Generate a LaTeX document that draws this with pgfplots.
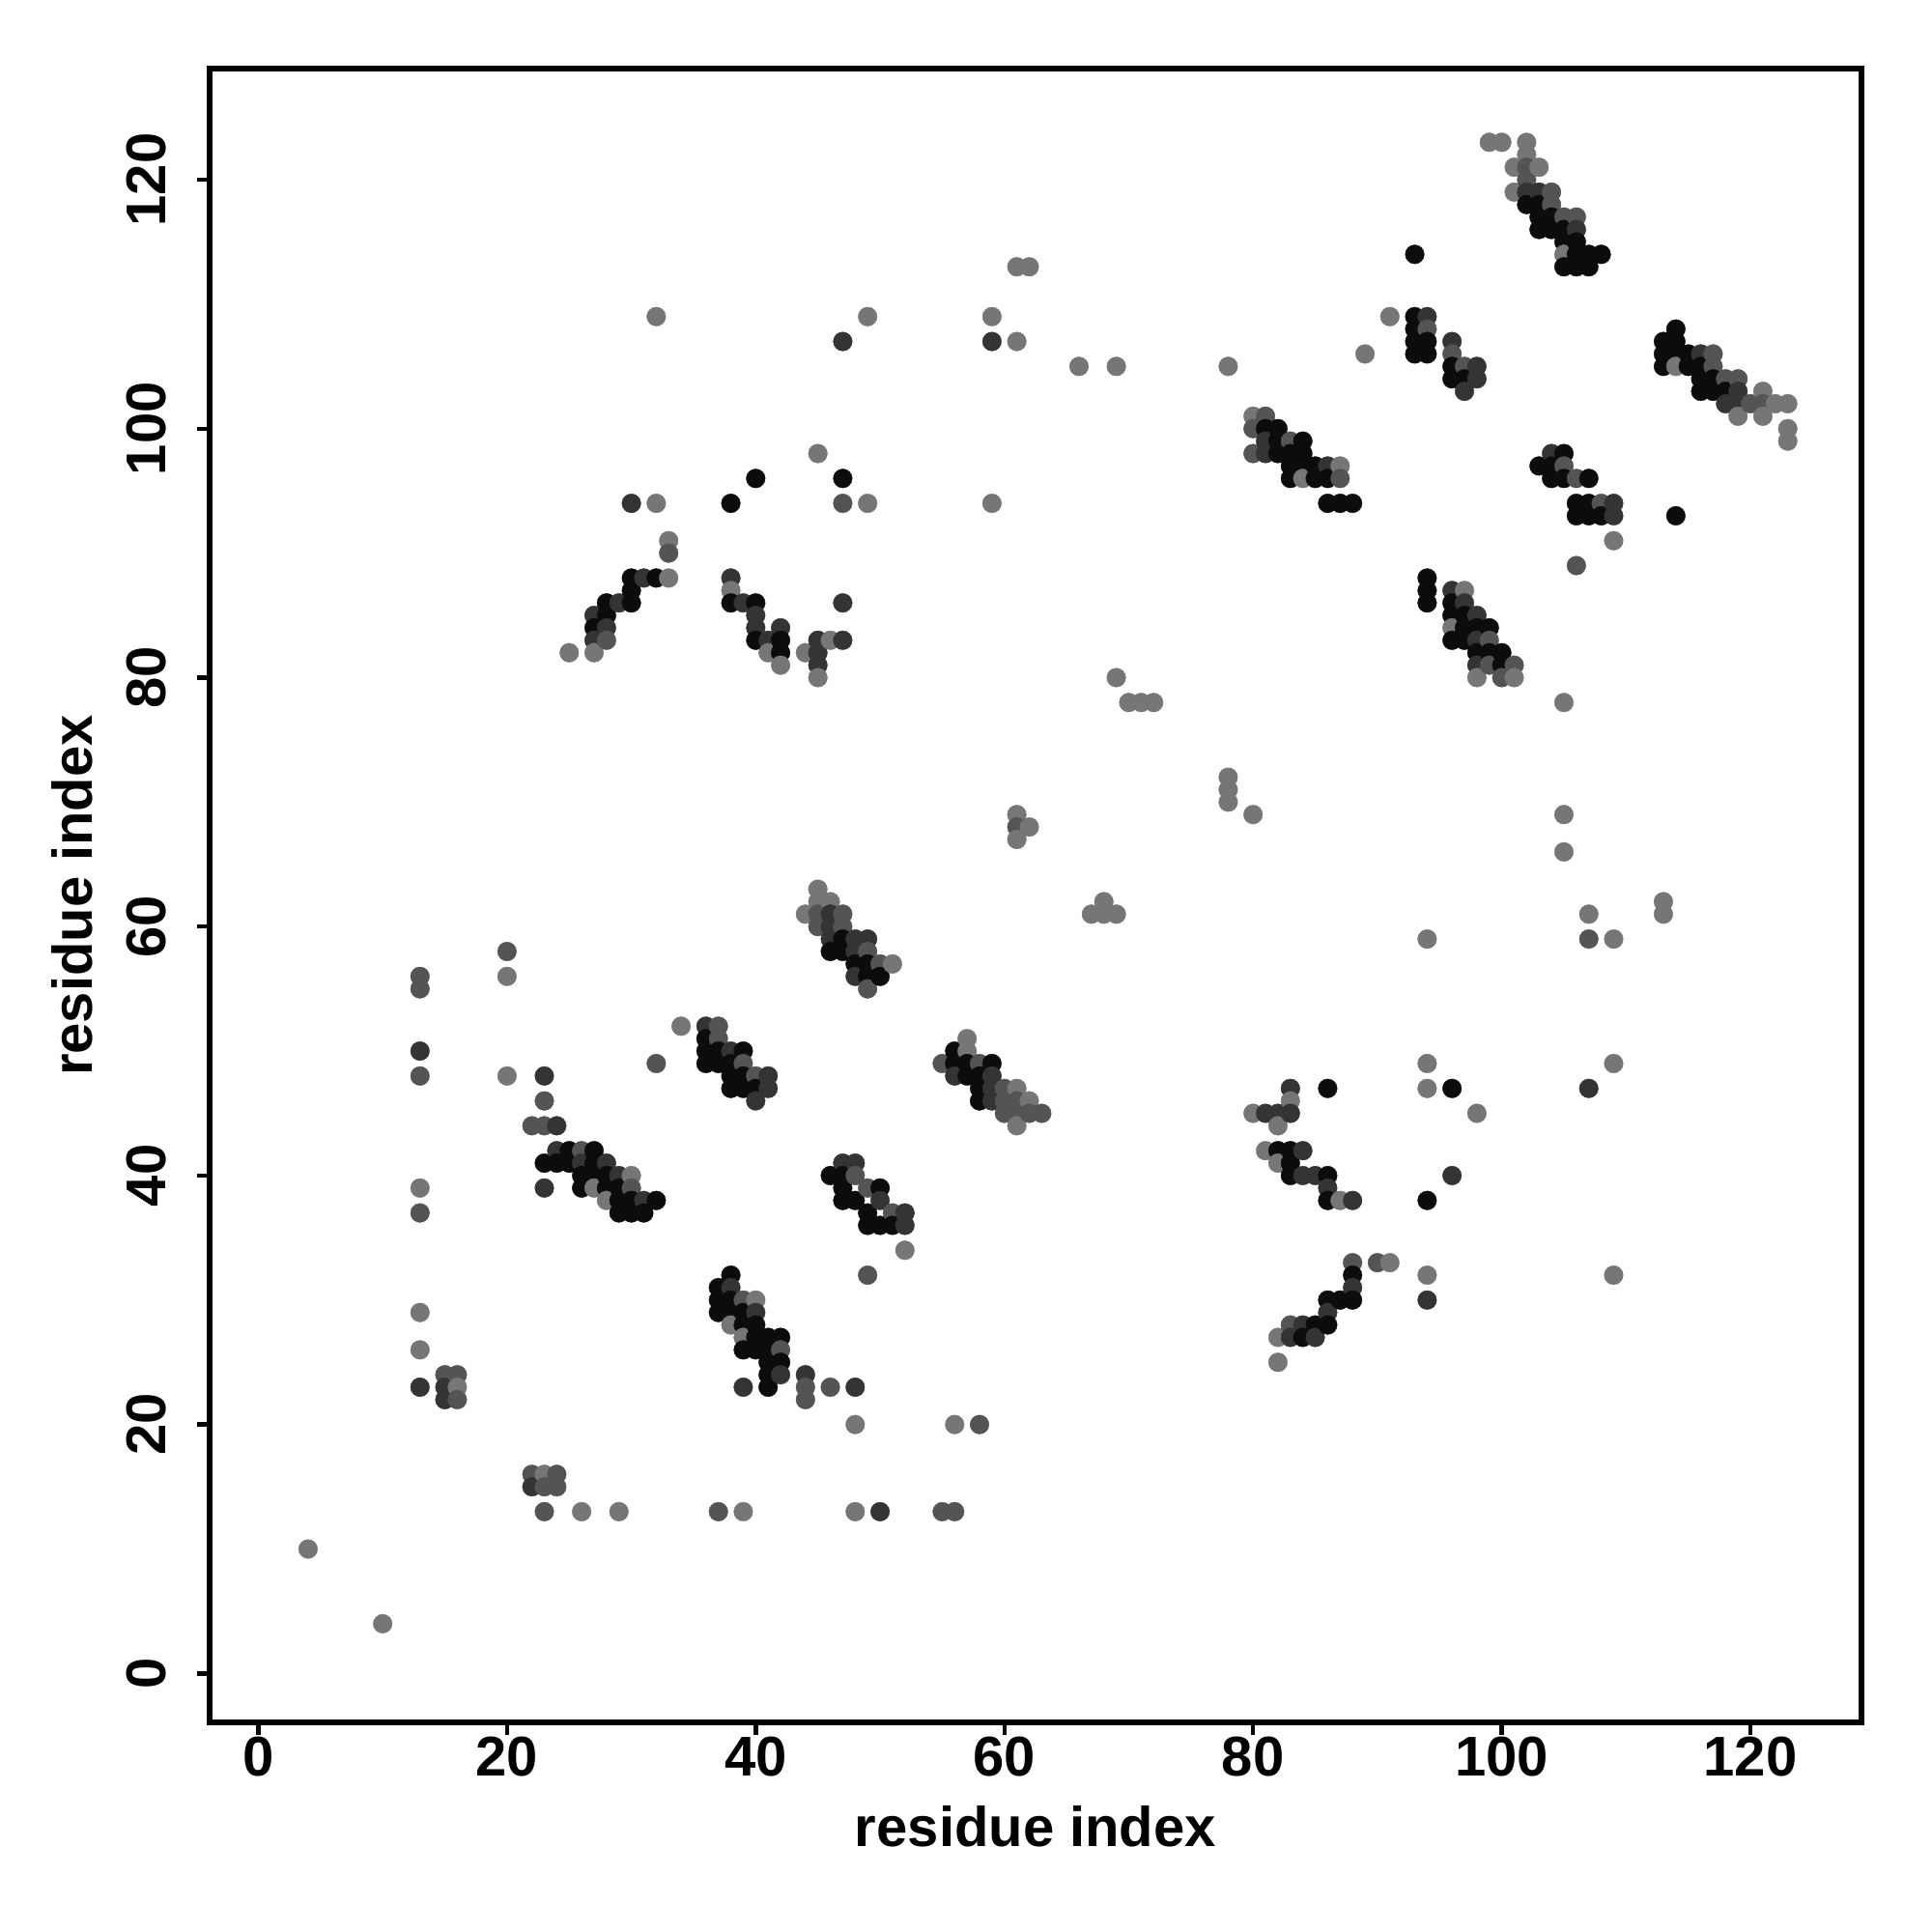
\documentclass[border=0pt]{standalone}
\usepackage{fontspec}
\setmainfont{Liberation Sans}
\usepackage{pgfplots}
\usepackage{pgfplotstable}
\pgfplotsset{compat=1.18}
% shade: 0 = black, 1 = dark grey, 2 = medium grey, 3 = grey
\pgfplotstableread{
x y c
4 10 3
10 4 3
13 56 2
13 55 2
13 50 1
13 48 2
13 39 3
13 37 2
13 29 3
13 26 3
13 23 1
15 24 2
15 23 1
15 22 1
16 24 2
16 23 3
16 22 2
20 58 2
20 56 3
20 48 3
22 44 2
22 16 2
22 15 1
23 48 1
23 46 2
23 44 2
23 41 0
23 39 1
23 16 3
23 15 2
23 13 2
24 44 1
24 42 1
24 41 0
24 16 2
24 15 2
25 82 3
25 42 0
25 41 0
26 42 2
26 41 1
26 40 0
26 39 0
26 13 3
27 85 1
27 84 0
27 83 1
27 82 3
27 42 0
27 41 0
27 40 0
27 39 3
28 86 0
28 85 0
28 84 1
28 83 2
28 41 1
28 40 0
28 39 0
28 38 3
29 86 1
29 40 1
29 39 0
29 38 0
29 37 0
29 13 3
30 94 1
30 88 0
30 87 0
30 86 0
30 40 3
30 39 2
30 38 0
30 37 0
31 88 1
31 38 1
31 37 0
32 109 3
32 94 3
32 88 0
32 49 2
32 38 0
33 91 3
33 90 2
33 88 3
34 52 3
36 52 1
36 51 0
36 50 0
36 49 0
37 52 2
37 51 2
37 50 0
37 49 0
37 31 0
37 30 0
37 29 0
37 13 2
38 94 0
38 88 1
38 87 3
38 86 0
38 50 1
38 49 0
38 48 0
38 47 0
38 32 0
38 31 1
38 30 0
38 29 0
38 28 3
39 86 1
39 50 0
39 49 2
39 48 0
39 47 0
39 30 2
39 29 0
39 28 0
39 27 3
39 26 0
39 23 1
39 13 3
40 96 0
40 86 0
40 85 1
40 84 1
40 83 0
40 48 2
40 47 0
40 46 1
40 30 3
40 29 1
40 28 0
40 27 0
40 26 0
41 83 1
41 82 3
41 48 1
41 47 1
41 27 0
41 26 0
41 25 0
41 24 0
41 23 0
42 84 1
42 83 0
42 82 0
42 81 3
42 27 0
42 26 2
42 25 0
42 24 1
44 82 3
44 61 3
44 24 1
44 23 2
44 22 2
45 98 3
45 83 1
45 82 1
45 81 1
45 80 3
45 63 3
45 62 3
45 61 2
45 60 2
46 83 3
46 62 3
46 61 1
46 60 1
46 59 1
46 58 0
46 40 0
46 23 2
47 107 1
47 96 0
47 94 2
47 86 1
47 83 1
47 61 2
47 60 2
47 59 0
47 58 0
47 41 1
47 40 0
47 39 0
47 38 0
48 59 1
48 58 1
48 57 0
48 56 1
48 41 1
48 40 2
48 38 0
48 23 1
48 20 3
48 13 3
49 109 3
49 94 3
49 59 1
49 58 2
49 57 0
49 56 0
49 55 2
49 39 2
49 37 0
49 36 0
49 32 2
50 57 2
50 56 0
50 39 0
50 38 1
50 36 0
50 13 1
51 57 3
51 37 2
51 36 0
52 37 1
52 36 1
52 34 3
55 49 2
55 13 2
56 50 0
56 49 0
56 48 1
56 20 3
56 13 2
57 51 3
57 50 3
57 49 0
57 48 0
58 49 2
58 48 0
58 47 0
58 46 0
58 20 2
59 109 3
59 107 1
59 94 3
59 49 0
59 48 1
59 47 1
59 46 1
60 47 2
60 46 2
60 45 2
61 113 3
61 107 3
61 69 3
61 68 2
61 67 3
61 47 3
61 46 2
61 45 2
61 44 3
62 113 3
62 68 3
62 46 3
62 45 2
63 45 2
66 105 3
67 61 3
68 62 3
68 61 3
69 61 3
69 105 3
69 80 3
70 78 3
71 78 3
72 78 3
78 105 3
78 72 3
78 71 3
78 70 3
80 101 3
80 100 2
80 98 2
80 69 3
80 45 3
81 101 2
81 100 0
81 99 1
81 98 1
81 45 1
81 42 3
82 100 0
82 99 0
82 98 0
82 45 1
82 44 3
82 42 0
82 41 3
82 27 3
82 25 3
83 99 2
83 98 0
83 97 0
83 96 0
83 47 1
83 46 3
83 45 1
83 42 0
83 41 0
83 40 0
83 28 2
83 27 1
84 99 0
84 98 0
84 97 0
84 96 3
84 42 1
84 40 1
84 28 1
84 27 0
85 97 0
85 96 0
85 40 1
85 28 0
85 27 1
86 97 1
86 96 0
86 94 0
86 47 0
86 40 0
86 39 1
86 38 0
86 30 0
86 29 1
86 28 0
87 97 3
87 96 2
87 94 0
87 38 3
87 30 0
88 94 0
88 38 1
88 33 2
88 32 0
88 31 1
88 30 0
89 106 3
90 33 2
91 33 3
91 109 3
93 114 0
93 109 0
93 108 0
93 107 0
93 106 0
94 109 1
94 108 2
94 107 0
94 106 0
94 88 0
94 87 0
94 86 0
94 59 3
94 49 3
94 47 3
94 38 0
94 32 3
94 30 1
96 107 1
96 106 2
96 105 0
96 104 0
96 87 1
96 86 0
96 85 0
96 84 3
96 83 0
96 47 0
96 40 1
97 105 2
97 104 0
97 103 1
97 87 3
97 86 1
97 85 0
97 84 0
97 83 0
98 105 1
98 104 1
98 85 1
98 84 0
98 83 1
98 82 0
98 81 1
98 80 3
98 45 3
99 123 3
99 84 0
99 83 2
99 82 0
99 81 2
100 123 3
100 82 0
100 81 0
100 80 2
101 121 3
101 119 3
101 81 2
101 80 3
102 123 3
102 122 3
102 121 2
102 120 2
102 119 1
102 118 0
103 121 3
103 119 1
103 118 0
103 117 0
103 116 0
103 97 0
104 119 2
104 118 2
104 117 0
104 116 0
104 98 1
104 97 0
104 96 0
105 117 2
105 116 0
105 115 0
105 114 3
105 113 0
105 98 0
105 97 2
105 96 0
105 78 3
105 69 3
105 66 3
106 117 2
106 116 1
106 115 0
106 114 0
106 113 0
106 96 2
106 94 0
106 93 0
106 89 2
107 114 0
107 113 0
107 96 0
107 94 0
107 93 0
107 61 3
107 59 2
107 47 1
108 114 0
108 94 2
108 93 0
109 94 1
109 93 1
109 91 3
109 59 3
109 49 3
109 32 3
113 107 0
113 106 0
113 105 0
113 62 3
113 61 3
114 108 0
114 107 0
114 106 0
114 105 3
114 93 0
115 106 0
115 105 0
116 106 1
116 105 0
116 104 0
116 103 0
117 106 2
117 105 2
117 104 0
117 103 0
118 104 2
118 103 0
118 102 1
119 104 2
119 103 1
119 102 1
119 101 3
120 102 2
121 103 3
121 102 2
121 101 3
122 102 3
123 102 3
123 100 3
123 99 3
}\contacts
\begin{document}
\begin{tikzpicture}
\begin{axis}[
  scale only axis,
  width=427.5pt, height=428pt,
  xmin=-3.92, xmax=128.92, ymin=-3.92, ymax=128.92,
  xtick={0,20,...,120}, ytick={0,20,...,120},
  xtick pos=left, ytick pos=left,
  tick align=outside, major tick length=3.25pt,
  axis line style={line width=1.5pt},
  every tick/.style={black, line width=1.1pt},
  /pgf/number format/assume math mode=true,
  tick label style={font=\fontsize{14.5}{17}\selectfont\bfseries},
  xticklabel style={inner sep=0pt, anchor=north, yshift=-0.3pt},
  yticklabel style={inner sep=0pt, xshift=-7.7pt, rotate=90, anchor=south},
  label style={font=\fontsize{14.5}{17}\selectfont\bfseries, inner sep=0pt},
  xlabel={residue index}, ylabel={residue index},
  xlabel style={at={(axis description cs:0.5,-0.0630)}, anchor=center},
  ylabel style={at={(axis description cs:-0.0830,0.5)}, anchor=center, rotate=0},
  colormap={cmgray}{rgb255=(12,12,12) rgb255=(52,52,52) rgb255=(84,84,84) rgb255=(118,118,118)},
  point meta min=0, point meta max=3,
  clip=false,
]
\addplot[scatter, only marks, mark=*, mark size=2.45pt,
  scatter src=explicit,
  scatter/use mapped color={draw=mapped color, fill=mapped color},
  mark options={line width=0.1pt}]
  table[x=x, y=y, meta=c] {\contacts};
\coordinate (bbl) at (axis description cs:-0.1269,-0.1268);
\coordinate (btr) at (axis description cs:1.0427,1.0415);
\end{axis}
\pgfresetboundingbox
\path (bbl) rectangle (btr);
\end{tikzpicture}
\end{document}
